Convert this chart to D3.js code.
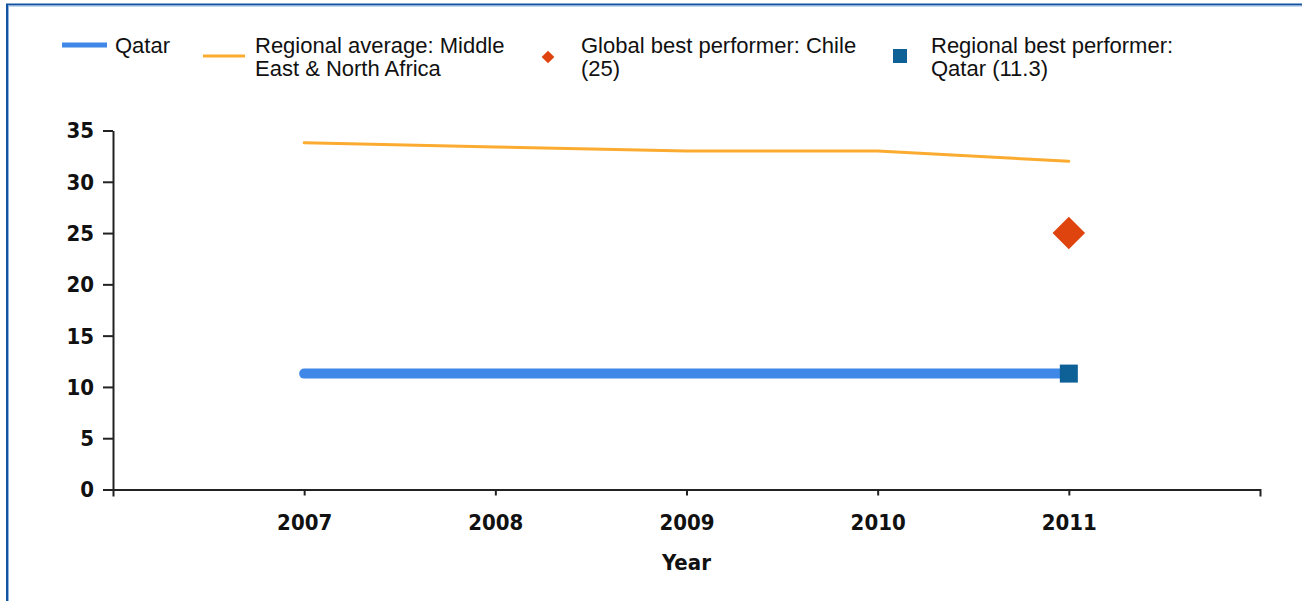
<!DOCTYPE html>
<html>
<head>
<meta charset="utf-8">
<script src="https://cdn.jsdelivr.net/npm/d3@7"></script>
<style>
  body { margin: 0; background: #fff; }
  #chart svg { display: block; }
</style>
</head>
<body>
<div id="chart"></div>
<script>
// chart values
var years = [2007, 2008, 2009, 2010, 2011];
var qatar = [11.3, 11.3, 11.3, 11.3, 11.3];
var regionalAvg = [33.8, 33.4, 33.0, 33.0, 32.0];
var globalBest = [{ year: 2011, value: 25 }];
var regionalBest = [{ year: 2011, value: 11.3 }];
var yTicks = [0, 5, 10, 15, 20, 25, 30, 35];
var legendLabels = [
  ['Qatar'],
  ['Regional average: Middle', 'East & North Africa'],
  ['Global best performer: Chile', '(25)'],
  ['Regional best performer:', 'Qatar (11.3)']
];

var W = 1302, H = 601;
var colors = {
  qatar: '#3f88e8',
  avg: '#fbab30',
  global: '#e0440e',
  regional: '#0e6196'
};

var svg = d3.select('#chart').append('svg')
  .attr('width', W)
  .attr('height', H);

// frame
svg.append('line').attr('x1', 6).attr('x2', W).attr('y1', 4.5).attr('y2', 4.5)
  .attr('stroke', '#14539f').attr('stroke-width', 2);
svg.append('line').attr('x1', 7).attr('x2', 7).attr('y1', 4).attr('y2', H)
  .attr('stroke', '#14539f').attr('stroke-width', 2);
svg.append('line').attr('x1', 8).attr('x2', W).attr('y1', 6).attr('y2', 6)
  .attr('stroke', '#8fb4e0').attr('stroke-width', 1);
svg.append('line').attr('x1', 8.5).attr('x2', 8.5).attr('y1', 6).attr('y2', H)
  .attr('stroke', '#8fb4e0').attr('stroke-width', 1);

var x = d3.scaleLinear().domain([2006, 2012]).range([113, 1260]);
var y = d3.scaleLinear().domain([0, 35]).range([489.5, 130.5]);

var axisFont = '"DejaVu Sans Condensed", "DejaVu Sans", sans-serif';

var xAxis = svg.append('g')
  .attr('transform', 'translate(0,' + y(0) + ')')
  .call(d3.axisBottom(x).tickValues(years).tickFormat(d3.format('d')).tickSize(6).tickSizeOuter(7));
var yAxis = svg.append('g')
  .attr('transform', 'translate(' + x(2006) + ',0)')
  .call(d3.axisLeft(y).tickValues(yTicks).tickSize(10).tickSizeOuter(0));

[xAxis, yAxis].forEach(function(g) {
  g.select('.domain').attr('stroke', '#222').attr('stroke-width', 2);
  g.selectAll('.tick line').attr('stroke', '#222').attr('stroke-width', 2);
  g.selectAll('.tick text')
    .attr('fill', '#111')
    .style('font-family', axisFont)
    .style('font-weight', 'bold')
    .style('font-size', '22px');
});
xAxis.selectAll('.tick text').attr('dy', '1.45em');
yAxis.selectAll('.tick text').attr('x', -19).attr('dy', '0.34em');

svg.append('text')
  .attr('x', (x(2006) + x(2012)) / 2)
  .attr('y', 570)
  .attr('text-anchor', 'middle')
  .attr('fill', '#111')
  .style('font-family', axisFont)
  .style('font-weight', 'bold')
  .style('font-size', '22px')
  .text('Year');

// lines
var line = d3.line()
  .x(function(d, i) { return x(years[i]); })
  .y(function(d) { return y(d); });

svg.append('path')
  .datum(regionalAvg)
  .attr('d', line)
  .attr('fill', 'none')
  .attr('stroke', colors.avg)
  .attr('stroke-width', 3)
  .attr('stroke-linecap', 'round');

svg.append('path')
  .datum(qatar)
  .attr('d', line)
  .attr('fill', 'none')
  .attr('stroke', colors.qatar)
  .attr('stroke-width', 10)
  .attr('stroke-linecap', 'round');

// markers
svg.selectAll('.global')
  .data(globalBest)
  .enter()
  .append('rect')
  .attr('class', 'global')
  .attr('x', -11.5).attr('y', -11.5)
  .attr('width', 23).attr('height', 23)
  .attr('fill', colors.global)
  .attr('transform', function(d) {
    return 'translate(' + x(d.year) + ',' + y(d.value) + ') rotate(45)';
  });

svg.selectAll('.regional')
  .data(regionalBest)
  .enter()
  .append('rect')
  .attr('class', 'regional')
  .attr('x', function(d) { return x(d.year) - 9; })
  .attr('y', function(d) { return y(d.value) - 9; })
  .attr('width', 18).attr('height', 18)
  .attr('fill', colors.regional);

// legend
var legendFont = '"Liberation Sans", Arial, sans-serif';
var textX = [115, 255, 581, 931];
var lg = svg.append('g').attr('class', 'legend');

lg.append('line').attr('x1', 62).attr('x2', 107).attr('y1', 45).attr('y2', 45)
  .attr('stroke', colors.qatar).attr('stroke-width', 5);
lg.append('line').attr('x1', 203).attr('x2', 245).attr('y1', 56).attr('y2', 56)
  .attr('stroke', colors.avg).attr('stroke-width', 3);
lg.append('rect').attr('x', -4.5).attr('y', -4.5).attr('width', 9).attr('height', 9)
  .attr('fill', colors.global)
  .attr('transform', 'translate(548,57) rotate(45)');
lg.append('rect').attr('x', 893).attr('y', 49).attr('width', 14).attr('height', 14)
  .attr('fill', colors.regional);

legendLabels.forEach(function(lines, i) {
  var t = lg.append('text')
    .attr('x', textX[i])
    .attr('y', 53)
    .attr('fill', '#111')
    .style('font-family', legendFont)
    .style('font-size', '22px');
  lines.forEach(function(s, j) {
    t.append('tspan')
      .attr('x', textX[i])
      .attr('dy', j === 0 ? 0 : 23)
      .text(s);
  });
});
</script>
</body>
</html>
